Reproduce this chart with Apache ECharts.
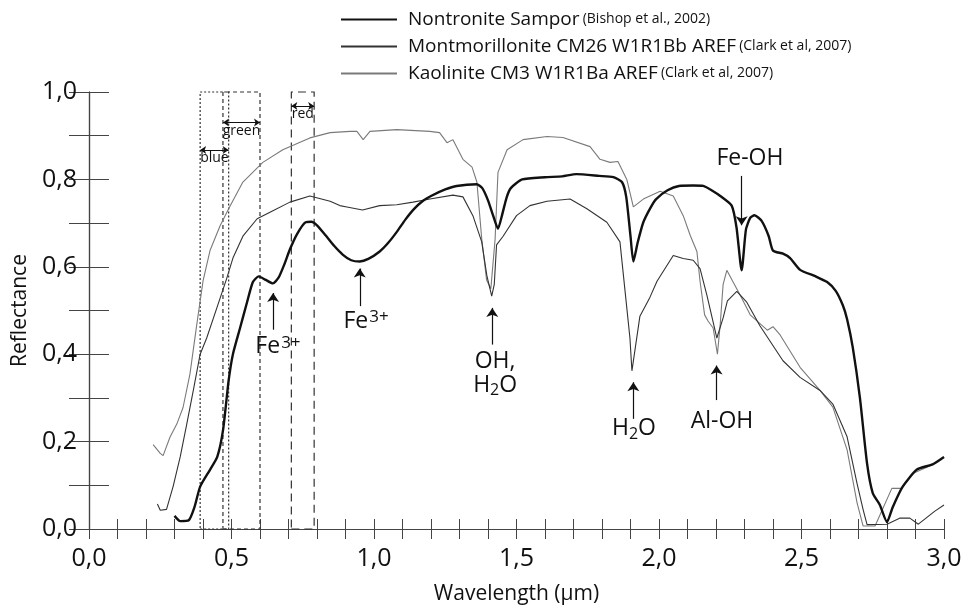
<!DOCTYPE html>
<html>
<head>
<meta charset="utf-8">
<title>Reflectance spectra</title>
<script src="https://cdn.jsdelivr.net/npm/echarts@6/dist/echarts.min.js"></script>
<style>
  html, body { margin: 0; padding: 0; background: #fff; }
  #chart { width: 967px; height: 610px; }
</style>
</head>
<body>
<div id="chart"></div>
<script>
// spectra: [wavelength (µm), reflectance]
const nontronite = [
  [0.30, 0.030], [0.32, 0.018], [0.35, 0.020], [0.37, 0.050], [0.39, 0.097],
  [0.425, 0.136], [0.45, 0.165], [0.47, 0.225], [0.49, 0.34], [0.505, 0.40],
  [0.53, 0.46], [0.555, 0.52], [0.575, 0.565], [0.595, 0.578], [0.62, 0.570],
  [0.645, 0.562], [0.665, 0.575], [0.685, 0.605], [0.705, 0.64], [0.73, 0.675],
  [0.76, 0.702], [0.78, 0.703], [0.80, 0.695], [0.83, 0.672], [0.86, 0.648],
  [0.89, 0.628], [0.92, 0.615], [0.95, 0.612], [0.98, 0.618], [1.02, 0.635],
  [1.05, 0.655], [1.08, 0.68], [1.11, 0.708], [1.14, 0.732], [1.17, 0.750],
  [1.20, 0.762], [1.25, 0.777], [1.29, 0.785], [1.36, 0.789], [1.38, 0.780],
  [1.40, 0.752], [1.418, 0.717], [1.435, 0.687], [1.45, 0.72], [1.465, 0.758],
  [1.48, 0.780], [1.52, 0.800], [1.60, 0.805], [1.66, 0.807], [1.71, 0.812],
  [1.79, 0.808], [1.84, 0.805], [1.87, 0.794], [1.885, 0.76], [1.90, 0.67],
  [1.91, 0.612], [1.925, 0.655], [1.945, 0.702], [1.97, 0.735], [1.99, 0.755],
  [2.03, 0.775], [2.07, 0.785], [2.12, 0.786], [2.155, 0.785], [2.19, 0.773],
  [2.215, 0.762], [2.255, 0.74], [2.272, 0.69], [2.29, 0.592], [2.305, 0.685],
  [2.32, 0.712], [2.335, 0.718], [2.36, 0.705], [2.385, 0.67], [2.40, 0.637],
  [2.435, 0.630], [2.46, 0.62], [2.495, 0.593], [2.55, 0.578], [2.59, 0.565],
  [2.62, 0.545], [2.645, 0.512], [2.66, 0.48], [2.68, 0.415], [2.705, 0.30],
  [2.73, 0.150], [2.75, 0.082], [2.775, 0.055], [2.80, 0.016], [2.82, 0.050],
  [2.855, 0.097], [2.905, 0.136], [2.96, 0.148], [3.00, 0.165]
];

const montmorillonite = [
  [0.24, 0.057], [0.25, 0.043], [0.272, 0.045], [0.295, 0.097], [0.32, 0.165],
  [0.343, 0.24], [0.366, 0.317], [0.39, 0.40], [0.413, 0.437], [0.448, 0.505],
  [0.483, 0.573], [0.505, 0.62], [0.54, 0.67], [0.59, 0.71], [0.635, 0.725],
  [0.705, 0.748], [0.775, 0.762], [0.846, 0.75], [0.88, 0.74], [0.905, 0.737],
  [0.96, 0.73], [1.02, 0.74], [1.08, 0.742], [1.137, 0.748], [1.196, 0.755],
  [1.277, 0.764], [1.312, 0.76], [1.347, 0.717], [1.378, 0.657], [1.396, 0.58],
  [1.413, 0.533], [1.422, 0.56], [1.43, 0.65], [1.453, 0.67], [1.50, 0.717],
  [1.547, 0.74], [1.607, 0.75], [1.688, 0.755], [1.747, 0.733], [1.817, 0.702],
  [1.863, 0.657], [1.88, 0.55], [1.898, 0.437], [1.905, 0.362], [1.933, 0.487],
  [1.968, 0.53], [1.993, 0.567], [2.05, 0.626], [2.085, 0.619], [2.12, 0.615],
  [2.144, 0.596], [2.168, 0.535], [2.203, 0.437], [2.225, 0.483], [2.24, 0.522],
  [2.273, 0.544], [2.307, 0.52], [2.354, 0.465], [2.435, 0.385], [2.495, 0.347],
  [2.565, 0.317], [2.61, 0.286], [2.66, 0.211], [2.695, 0.104], [2.716, 0.045],
  [2.73, 0.010], [2.80, 0.011], [2.846, 0.025], [2.88, 0.025], [2.91, 0.011],
  [2.968, 0.041], [3.00, 0.055]
];

const kaolinite = [
  [0.225, 0.193], [0.25, 0.173], [0.26, 0.168], [0.284, 0.21], [0.308, 0.24],
  [0.33, 0.278], [0.354, 0.354], [0.378, 0.467], [0.40, 0.567], [0.425, 0.638],
  [0.46, 0.694], [0.495, 0.739], [0.54, 0.794], [0.61, 0.839], [0.68, 0.868],
  [0.775, 0.895], [0.846, 0.907], [0.916, 0.91], [0.94, 0.91], [0.962, 0.891],
  [0.986, 0.91], [1.08, 0.914], [1.196, 0.91], [1.23, 0.907], [1.256, 0.884],
  [1.277, 0.891], [1.312, 0.846], [1.344, 0.828], [1.361, 0.794], [1.378, 0.664],
  [1.395, 0.57], [1.41, 0.55], [1.425, 0.664], [1.435, 0.816], [1.467, 0.868],
  [1.523, 0.891], [1.607, 0.898], [1.663, 0.896], [1.758, 0.875], [1.793, 0.846],
  [1.828, 0.839], [1.856, 0.841], [1.887, 0.80], [1.91, 0.737], [1.945, 0.755],
  [2.004, 0.773], [2.05, 0.762], [2.085, 0.717], [2.11, 0.671], [2.133, 0.635],
  [2.144, 0.567], [2.16, 0.49], [2.172, 0.476], [2.19, 0.46], [2.205, 0.40],
  [2.215, 0.47], [2.225, 0.56], [2.238, 0.592], [2.26, 0.565], [2.285, 0.535],
  [2.32, 0.49], [2.38, 0.455], [2.40, 0.463], [2.425, 0.444], [2.495, 0.37],
  [2.565, 0.317], [2.61, 0.279], [2.66, 0.181], [2.695, 0.06], [2.716, 0.007],
  [2.758, 0.007], [2.817, 0.093], [2.852, 0.093], [2.89, 0.127], [2.96, 0.147],
  [3.00, 0.165]
];

const seriesNames = [
  'Nontronite Sampor',
  'Montmorillonite CM26 W1R1Bb AREF',
  'Kaolinite CM3 W1R1Ba AREF'
];
const citations = [
  '(Bishop et al., 2002)',
  '(Clark et al, 2007)',
  '(Clark et al, 2007)'
];

// colour filter bands (µm)
const bandNames = ['blue', 'green', 'red'];
const bandFrom = [0.39, 0.47, 0.71];
const bandTo = [0.49, 0.60, 0.79];
const bandArrowAt = [0.867, 0.93, 0.968];

// absorption features: label, wavelength, arrow from -> to (reflectance)
const featureText = [
  '{t|Fe}{sup|3+}',
  '{t|Fe}{sup|3+}',
  '{t|OH,}\n{t|H}{sub|2}{t|O}',
  '{t|H}{sub|2}{t|O}',
  '{t|Al-OH}',
  '{t|Fe-OH}'
];
const featureWl = [0.646, 0.95, 1.415, 1.91, 2.202, 2.29];
const arrowFrom = [0.456, 0.51, 0.422, 0.252, 0.295, 0.808];
const arrowTo = [0.54, 0.596, 0.506, 0.336, 0.374, 0.695];
const featureLabelAt = [
  [0.663, 0.417], [0.972, 0.476], [1.425, 0.356],
  [1.912, 0.229], [2.221, 0.247], [2.319, 0.848]
];

const FONT = 'Open Sans';
const INK = '#111';

const comma = v => v.toFixed(1).replace('.', ',');

const chart = echarts.init(document.getElementById('chart'));

const bandDash = [[2, 2], [4, 3], [8, 5]];

const option = {
  animation: false,
  textStyle: { fontFamily: FONT, color: INK },
  grid: { left: 89, right: 23, top: 92, bottom: 77 },
  legend: {
    data: seriesNames,
    orient: 'vertical',
    left: 340,
    top: 10,
    padding: 0,
    itemWidth: 56,
    itemHeight: 14,
    itemGap: 8,
    selectedMode: false,
    itemStyle: { opacity: 0 },
    formatter: name => '{a|' + name + '} {b|' + citations[seriesNames.indexOf(name)] + '}',
    textStyle: {
      fontFamily: FONT,
      color: INK,
      rich: {
        a: { fontFamily: FONT, fontSize: 19, lineHeight: 21, color: INK, padding: [0, 0, 0, 6] },
        b: { fontFamily: FONT, fontSize: 14, lineHeight: 21, color: INK }
      }
    }
  },
  xAxis: [
    {
      type: 'value', min: 0, max: 3, interval: 0.1,
      name: 'Wavelength (µm)', nameLocation: 'middle', nameGap: 55,
      nameTextStyle: { fontSize: 21, color: INK, fontFamily: FONT },
      axisLine: { lineStyle: { color: '#444', width: 1.2 } },
      axisTick: { inside: true, length: 10, lineStyle: { color: '#444' } },
      axisLabel: {
        margin: 17, fontSize: 25, color: INK, fontFamily: FONT,
        formatter: v => (Math.round(v * 10) % 5 === 0 ? comma(v) : '')
      },
      splitLine: { show: false }
    },
    {
      type: 'value', position: 'top', min: 0, max: 3, interval: 0.1,
      axisLine: { lineStyle: { color: '#444', width: 1.2 } },
      axisTick: { inside: true, length: 10, lineStyle: { color: '#444' } },
      axisLabel: { show: false },
      splitLine: { show: false }
    }
  ],
  yAxis: [
    {
      type: 'value', min: 0, max: 1, interval: 0.1,
      name: 'Reflectance', nameLocation: 'middle', nameGap: 58,
      nameTextStyle: { fontSize: 21, color: INK, fontFamily: FONT },
      axisLine: { show: true, lineStyle: { color: '#444', width: 1.2 } },
      axisTick: { show: true, inside: true, length: 20, lineStyle: { color: '#444' } },
      axisLabel: {
        margin: 12, fontSize: 25, color: INK, fontFamily: FONT,
        formatter: v => (Math.round(v * 10) % 2 === 0 ? comma(v) : '')
      },
      splitLine: { show: false }
    },
    {
      type: 'value', position: 'right', min: 0, max: 1, interval: 0.1,
      axisLine: { show: true, lineStyle: { color: '#444', width: 1.2 } },
      axisTick: { show: true, inside: true, length: 20, lineStyle: { color: '#444' } },
      axisLabel: { show: false },
      splitLine: { show: false }
    }
  ],
  series: [
    {
      name: 'bands', type: 'line', data: [], silent: true,
      markArea: {
        silent: true,
        itemStyle: { color: 'rgba(0,0,0,0)', borderColor: '#333', borderWidth: 1.2 },
        data: bandNames.map((n, i) => [
          { xAxis: bandFrom[i], itemStyle: { borderType: bandDash[i] } },
          { xAxis: bandTo[i] }
        ])
      },
      markLine: {
        silent: true,
        symbol: ['arrow', 'arrow'],
        symbolSize: 6,
        lineStyle: { color: INK, width: 1, type: 'solid' },
        label: {
          show: true, position: 'insideMiddleBottom', distance: 1,
          fontSize: 14, color: INK, fontFamily: FONT, formatter: '{b}'
        },
        data: bandNames.map((n, i) => [
          { name: n, coord: [bandFrom[i], bandArrowAt[i]] },
          { coord: [bandTo[i], bandArrowAt[i]] }
        ])
      }
    },
    {
      name: seriesNames[0], type: 'line', data: nontronite,
      symbol: 'none', smooth: 0.2, z: 5,
      lineStyle: { color: INK, width: 2.4 }, itemStyle: { color: INK }
    },
    {
      name: seriesNames[1], type: 'line', data: montmorillonite,
      symbol: 'none', z: 4,
      lineStyle: { color: '#333', width: 1.1 }, itemStyle: { color: '#333' }
    },
    {
      name: seriesNames[2], type: 'line', data: kaolinite,
      symbol: 'none', z: 3,
      lineStyle: { color: '#7a7a7a', width: 1.1 }, itemStyle: { color: '#555' }
    },
    {
      name: 'features', type: 'line', data: [], silent: true,
      markLine: {
        silent: true,
        symbol: ['none', 'arrow'],
        symbolSize: 9,
        lineStyle: { color: INK, width: 1.2, type: 'solid' },
        label: { show: false },
        data: featureWl.map((w, i) => [
          { coord: [w, arrowFrom[i]] },
          { coord: [w, arrowTo[i]] }
        ])
      },
      markPoint: {
        silent: true,
        symbol: 'circle',
        symbolSize: 1,
        itemStyle: { color: 'rgba(0,0,0,0)' },
        label: {
          show: true, position: 'inside', align: 'center', color: INK,
          rich: {
            t: { fontFamily: FONT, fontSize: 23, lineHeight: 24, color: INK },
            sup: { fontFamily: FONT, fontSize: 17, lineHeight: 16, padding: [0, 0, 8, 1], color: INK },
            sub: { fontFamily: FONT, fontSize: 16, lineHeight: 14, padding: [11, 0, 0, 0], color: INK }
          }
        },
        data: featureText.map((txt, i) => ({
          coord: featureLabelAt[i],
          label: { formatter: txt }
        }))
      }
    }
  ]
};

chart.setOption(option);
</script>
</body>
</html>
